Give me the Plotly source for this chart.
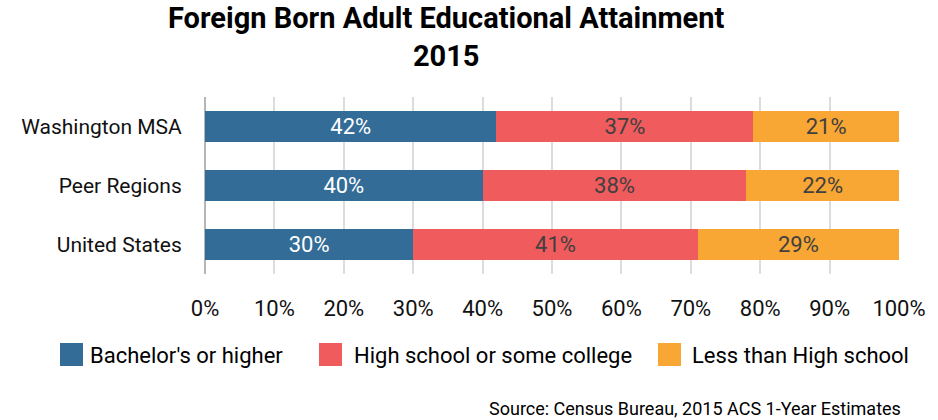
import plotly.graph_objects as go

# Educational attainment of foreign-born adults, 2015 (percent of adults)
regions = ["Washington MSA", "Peer Regions", "United States"]
bachelors = [42, 40, 30]
high_school = [37, 38, 41]
less_than_hs = [21, 22, 29]

series_names = ["Bachelor's or higher", "High school or some college", "Less than High school"]
series_values = [bachelors, high_school, less_than_hs]
series_colors = ["#326c97", "#f05b5d", "#f8a634"]
label_colors = ["#ffffff", "#404040", "#404040"]

x_ticks = list(range(0, 101, 10))
x_tick_text = [f"{t}%" for t in x_ticks]

FONT = "Roboto"

fig = go.Figure()
for name, vals, col, lcol in zip(series_names, series_values, series_colors, label_colors):
    fig.add_trace(go.Bar(
        y=regions, x=vals, name=name, orientation="h",
        marker=dict(color=col, line=dict(width=0)),
        text=[f"{v}%" for v in vals], textposition="inside",
        insidetextanchor="middle", constraintext="none", textangle=0,
        textfont=dict(family=FONT, size=22, color=lcol),
        showlegend=False,
    ))

fig.update_layout(
    width=938, height=420,
    barmode="stack", bargap=0.46,
    margin=dict(l=205, r=39, t=97, b=146),
    paper_bgcolor="white", plot_bgcolor="white",
    font=dict(family=FONT, color="#111111"),
    uniformtext=dict(mode=False),
)
fig.update_xaxes(
    range=[0, 100], tickvals=x_ticks, ticktext=x_tick_text,
    showgrid=True, gridcolor="#dcdcdc", gridwidth=2,
    zeroline=True, zerolinecolor="#b5b5b5", zerolinewidth=2,
    ticks="outside", ticklen=15, tickcolor="rgba(0,0,0,0)",
    tickfont=dict(family=FONT, size=22, color="#111111"),
    showline=False, fixedrange=True,
)
fig.update_yaxes(
    categoryorder="array", categoryarray=regions[::-1],
    ticks="outside", ticklen=18, tickcolor="rgba(0,0,0,0)",
    tickfont=dict(family=FONT, size=21, color="#111111"),
    showgrid=False, showline=False, fixedrange=True,
)

# Two-line title
fig.add_annotation(
    text="<b>Foreign Born Adult Educational Attainment<br>2015</b>",
    xref="paper", yref="paper", x=(446 - 205) / 694, y=(274 - 37) / 177,
    xanchor="center", yanchor="middle", showarrow=False, align="center",
    font=dict(family=FONT, size=29, color="#000000"),
)

# Legend drawn as colour swatches with labels
legend_items = [(60, 88), (319, 352), (658, 690)]
for (sx, tx), name, col in zip(legend_items, series_names, series_colors):
    fig.add_shape(
        type="rect", xref="paper", yref="paper",
        x0=(sx - 205) / 694, x1=(sx + 23 - 205) / 694,
        y0=(274 - 366) / 177, y1=(274 - 343) / 177,
        fillcolor=col, line=dict(width=0),
    )
    fig.add_annotation(
        text=name, xref="paper", yref="paper",
        x=(tx - 205) / 694, y=(274 - 355) / 177,
        xanchor="left", yanchor="middle", showarrow=False,
        font=dict(family=FONT, size=22, color="#000000"),
    )

# Source note
fig.add_annotation(
    text="Source: Census Bureau, 2015 ACS 1-Year Estimates",
    xref="paper", yref="paper", x=(903 - 205) / 694, y=(274 - 408) / 177,
    xanchor="right", yanchor="middle", showarrow=False,
    font=dict(family=FONT, size=18, color="#000000"),
)

fig.write_html("out.html")
